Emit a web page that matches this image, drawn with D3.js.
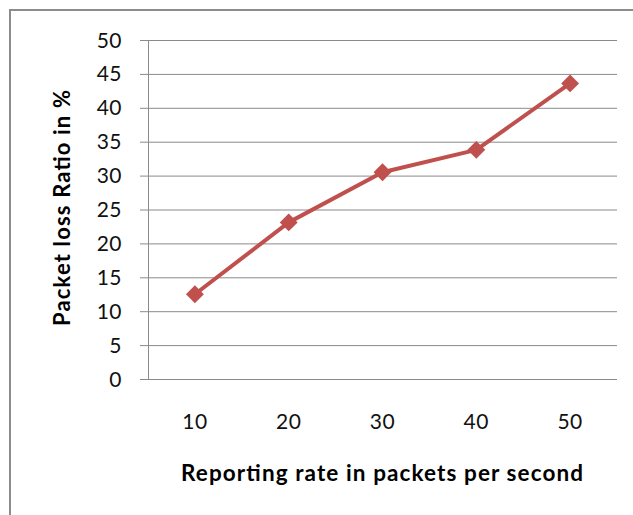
<!DOCTYPE html>
<html><head><meta charset="utf-8">
<script src="https://cdn.jsdelivr.net/npm/d3@7"></script>
<style>body{margin:0;background:#fff}svg{display:block}</style>
</head><body>
<svg id="c" width="633" height="515"></svg>
<script>
const categories = ["10","20","30","40","50"];
const lossRatio = [12.5, 23.1, 30.5, 33.8, 43.6];
const yTicks = [0,5,10,15,20,25,30,35,40,45,50];

const svg = d3.select("#c");
const font = "Lato, 'Open Sans', sans-serif";
svg.append("rect").attr("x",10).attr("y",10).attr("width",640).attr("height",520)
  .attr("fill","#fff").attr("stroke","#8c8c8c").attr("stroke-width",2);

const x0 = 148, x1 = 617, yTop = 40, yBot = 379;
const x = d3.scaleBand().domain(categories).range([x0,x1]);
const y = d3.scaleLinear().domain([0,50]).range([yBot,yTop]);

svg.append("g").selectAll("line").data(yTicks).join("line")
  .attr("x1",140).attr("x2",x1).attr("y1",d=>y(d)+0.5).attr("y2",d=>y(d)+0.5)
  .attr("stroke","#8a8a8a").attr("stroke-width",1);
svg.append("line").attr("x1",x0+0.5).attr("x2",x0+0.5).attr("y1",yTop).attr("y2",yBot)
  .attr("stroke","#8a8a8a").attr("stroke-width",1);

svg.append("g").selectAll("text").data(yTicks).join("text")
  .attr("x",122).attr("y",d=>y(d)).attr("dy","0.36em").attr("text-anchor","end")
  .attr("font-family",font).attr("font-size",21).attr("letter-spacing",0.5).attr("fill","#111").text(d=>d);
svg.append("g").selectAll("text").data(categories).join("text")
  .attr("x",d=>x(d)+x.bandwidth()/2).attr("y",421).attr("dy","0.36em").attr("text-anchor","middle")
  .attr("font-family",font).attr("font-size",21).attr("letter-spacing",0.5).attr("fill","#111").text(d=>d);

svg.append("text").attr("x",382).attr("y",473).attr("dy","0.36em").attr("text-anchor","middle")
  .attr("font-family",font).attr("font-size",22.5).attr("font-weight","bold").attr("fill","#000")
  .attr("textLength",402).attr("lengthAdjust","spacing")
  .text("Reporting rate in packets per second");
svg.append("text").attr("transform","translate(62,208) rotate(-90)").attr("dy","0.36em")
  .attr("text-anchor","middle").attr("font-family",font).attr("font-size",22).attr("font-weight","bold")
  .attr("textLength",236).attr("lengthAdjust","spacing")
  .attr("fill","#000").text("Packet loss Ratio in %");

const pts = categories.map((c,i)=>[x(c)+x.bandwidth()/2, y(lossRatio[i])]);
svg.append("path").attr("d",d3.line()(pts)).attr("fill","none").attr("stroke","#C0504D")
  .attr("stroke-width",4).attr("stroke-linejoin","round");
svg.append("g").selectAll("path").data(pts).join("path")
  .attr("d",d3.symbol(d3.symbolSquare, 160))
  .attr("transform",d=>`translate(${d[0]},${d[1]}) rotate(45)`)
  .attr("fill","#C0504D");
</script>
</body></html>
